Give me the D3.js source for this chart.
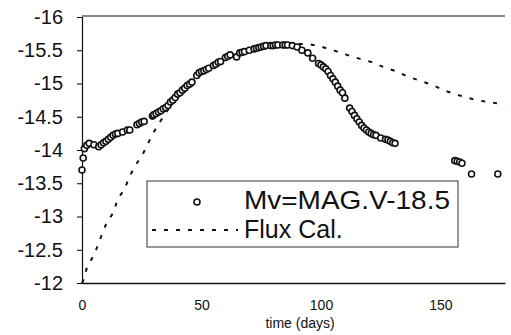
<!DOCTYPE html>
<meta charset="utf-8">
<script src="https://d3js.org/d3.v7.min.js"></script>
<style>
  body { margin: 0; background: #fff; }
  text { font-family: "Liberation Sans", Arial, sans-serif; fill: #111; }
</style>
<svg id="chart" width="511" height="335"></svg>
<script>
// observed V magnitude (time in days, Mv)
const obsDays = [0, 0.5, 1, 2, 3, 5, 7, 8, 9, 10, 11, 12, 13, 14, 15, 17, 19, 20, 23, 24, 25, 26,
  29.5, 30, 31, 32, 33, 34, 35, 36, 37, 38, 39, 40, 41, 42, 43, 44, 45, 46, 48, 49, 50, 51, 52, 53,
  55, 56, 57, 58, 60, 61, 62, 64.7, 66, 67, 68, 70, 72, 73, 74, 75, 76, 77, 79, 80, 81, 82, 84, 85,
  86, 88, 90, 92, 94.5, 96.5, 99, 100, 101, 102, 103, 104, 105, 106, 107, 108, 109, 110, 112, 113,
  114, 115, 116, 117, 118, 119, 120, 121, 122, 123, 125, 127, 128, 129, 130, 131,
  156, 157, 158, 159, 163, 174];
const obsMag = [-13.70, -13.88, -14.02, -14.07, -14.10, -14.08, -14.05, -14.08, -14.11, -14.13, -14.16, -14.19, -14.22, -14.24, -14.25, -14.27, -14.30, -14.30, -14.38, -14.40, -14.42, -14.43,
  -14.51, -14.53, -14.55, -14.57, -14.59, -14.62, -14.64, -14.67, -14.72, -14.75, -14.79, -14.84, -14.86, -14.90, -14.93, -14.97, -14.99, -15.02, -15.12, -15.16, -15.18, -15.19, -15.21, -15.23,
  -15.27, -15.29, -15.32, -15.33, -15.39, -15.41, -15.43, -15.40, -15.46, -15.47, -15.48, -15.50, -15.52, -15.53, -15.54, -15.55, -15.56, -15.57, -15.57, -15.57, -15.58, -15.58, -15.58, -15.58,
  -15.58, -15.57, -15.55, -15.50, -15.46, -15.38, -15.30, -15.28, -15.25, -15.22, -15.18, -15.12, -15.07, -15.02, -14.96, -14.90, -14.86, -14.78, -14.63, -14.58,
  -14.52, -14.47, -14.42, -14.37, -14.33, -14.30, -14.27, -14.25, -14.23, -14.22, -14.18, -14.16, -14.15, -14.13, -14.11, -14.10,
  -13.84, -13.83, -13.82, -13.80, -13.64, -13.64];

// flux calibrated curve
const fluxDays = [0, 1, 2, 5, 7, 8.5, 10.5, 13.4, 14.7, 17.6, 19.7, 21.8, 25.2, 29.4, 32.4, 38, 45, 55, 65, 75, 85,
  95.4, 100.4, 105.9, 110.9, 116.4, 121.4, 126, 131, 136.6, 141.6, 146.6, 152, 157, 161.8, 166.8, 172.3, 177];
const fluxMag = [-12.0, -12.08, -12.23, -12.42, -12.60, -12.75, -12.92, -13.07, -13.25, -13.40, -13.58, -13.74, -13.92, -14.23, -14.41, -14.72, -15.0, -15.28, -15.45, -15.55, -15.6,
  -15.59, -15.55, -15.49, -15.43, -15.37, -15.32, -15.25, -15.19, -15.10, -15.04, -14.98, -14.89, -14.83, -14.78, -14.74, -14.71, -14.68];

const yTicks = [-16, -15.5, -15, -14.5, -14, -13.5, -13, -12.5, -12];
const xTicks = [0, 50, 100, 150];
const legendLabels = ["Mv=MAG.V-18.5", "Flux Cal."];

const svg = d3.select("#chart");
const plotLeft = 82, plotRight = 505, plotTop = 17, plotBottom = 283;

const x = d3.scaleLinear().domain([0, 177]).range([plotLeft, plotRight]);
const y = d3.scaleLinear().domain([-16, -12]).range([plotTop, plotBottom]);

// frame: top line
svg.append("line")
  .attr("x1", plotLeft).attr("x2", plotRight)
  .attr("y1", plotTop - 1).attr("y2", plotTop - 1)
  .attr("stroke", "#111").attr("stroke-width", 1.2);

// y axis
const yAxis = svg.append("g")
  .attr("transform", `translate(${plotLeft},0)`)
  .call(d3.axisLeft(y).tickValues(yTicks).tickSize(5).tickFormat(d => d));
yAxis.select(".domain").attr("stroke", "#111").attr("stroke-width", 1.2);
yAxis.selectAll("text")
  .attr("x", -19)
  .style("font-size", "20px")
  .style("font-family", "'Liberation Sans', Arial, sans-serif")
  .attr("fill", "#111");

// x axis
const xAxis = svg.append("g")
  .attr("transform", `translate(0,${plotBottom})`)
  .call(d3.axisBottom(x).tickValues(xTicks).tickSize(0).tickFormat(d => d));
xAxis.select(".domain").attr("stroke", "#111").attr("stroke-width", 1.5);
xAxis.selectAll("text")
  .attr("y", 17)
  .style("font-size", "14px")
  .style("font-family", "'Liberation Sans', Arial, sans-serif")
  .attr("fill", "#555");

svg.append("text")
  .attr("x", 300).attr("y", 328)
  .attr("text-anchor", "middle")
  .style("font-size", "14px")
  .attr("fill", "#555")
  .text("time (days)");

// flux curve
const fluxLine = d3.line()
  .x((d, i) => x(fluxDays[i]))
  .y(d => y(d));

svg.append("path")
  .datum(fluxMag)
  .attr("d", fluxLine)
  .attr("fill", "none")
  .attr("stroke", "#111")
  .attr("stroke-width", 2)
  .attr("stroke-dasharray", "4,8");

// observed points
svg.append("g")
  .selectAll("circle")
  .data(obsMag)
  .join("circle")
  .attr("cx", (d, i) => x(obsDays[i]))
  .attr("cy", d => y(d))
  .attr("r", 3)
  .attr("fill", "#fff")
  .attr("stroke", "#111")
  .attr("stroke-width", 1.6);

// legend
const lg = svg.append("g");
lg.append("rect")
  .attr("x", 147).attr("y", 181)
  .attr("width", 311).attr("height", 66)
  .attr("fill", "#fff")
  .attr("stroke", "#333")
  .attr("stroke-width", 1);
lg.append("circle")
  .attr("cx", 197).attr("cy", 202).attr("r", 3)
  .attr("fill", "#fff").attr("stroke", "#111").attr("stroke-width", 1.6);
lg.append("line")
  .attr("x1", 152).attr("x2", 238)
  .attr("y1", 230).attr("y2", 230)
  .attr("stroke", "#111").attr("stroke-width", 2)
  .attr("stroke-dasharray", "4,8");
lg.selectAll("text.lab")
  .data(legendLabels)
  .join("text")
  .attr("class", "lab")
  .attr("x", 244)
  .attr("y", (d, i) => 209 + i * 29)
  .style("font-size", "25px")
  .text(d => d);
lg.select("text.lab")
  .attr("textLength", 206)
  .attr("lengthAdjust", "spacingAndGlyphs");
</script>
